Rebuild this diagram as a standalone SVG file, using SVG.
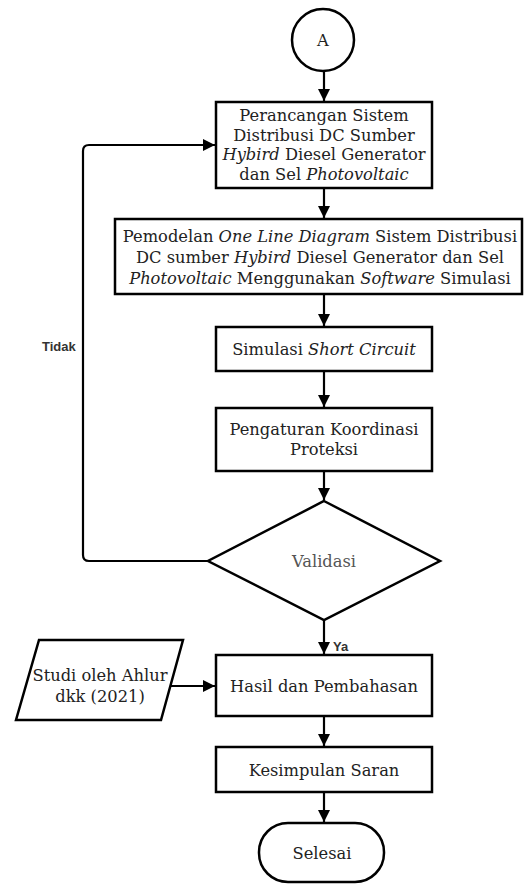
<svg xmlns="http://www.w3.org/2000/svg" width="524" height="884" viewBox="0 0 524 884">
<style>
.s{fill:#fff;stroke:#000;stroke-width:2.5}
.t{font-family:"DejaVu Serif","Liberation Serif",serif;font-size:16.3px;fill:#222;text-anchor:middle}
.c{fill:none;stroke:#000;stroke-width:2.2}
.l{font-family:"Liberation Sans",Arial,sans-serif;font-size:13px;font-weight:bold;fill:#333}
</style>
<defs>
<marker id="ah" markerUnits="userSpaceOnUse" markerWidth="12" markerHeight="14" viewBox="0 0 12 14" refX="12" refY="7" orient="auto">
<path d="M0,1 L12,7 L0,13 Z" fill="#000"/>
</marker>
</defs>
<rect width="524" height="884" fill="#fff"/>
<g id="connectors">
<line class="c" x1="324" y1="71" x2="324" y2="101" marker-end="url(#ah)"/>
<line class="c" x1="324" y1="188" x2="324" y2="218" marker-end="url(#ah)"/>
<line class="c" x1="324" y1="294" x2="324" y2="326" marker-end="url(#ah)"/>
<line class="c" x1="324" y1="371" x2="324" y2="407" marker-end="url(#ah)"/>
<line class="c" x1="324" y1="471" x2="324" y2="500" marker-end="url(#ah)"/>
<line class="c" x1="324" y1="620" x2="324" y2="654" marker-end="url(#ah)"/>
<line class="c" x1="324" y1="716" x2="324" y2="746" marker-end="url(#ah)"/>
<line class="c" x1="324" y1="792" x2="324" y2="822" marker-end="url(#ah)"/>
<line class="c" x1="171" y1="686" x2="215" y2="686" marker-end="url(#ah)"/>
<path class="c" d="M208,561 H89 Q83,561 83,555 V151 Q83,145 89,145 H215" marker-end="url(#ah)"/>
<text class="l" x="42" y="351">Tidak</text>
<text class="l" x="333" y="651">Ya</text>
</g>
<g id="start">
<circle class="s" cx="323" cy="40" r="31"/>
<text class="t" x="323" y="46">A</text>
</g>
<g id="perancangan">
<rect class="s" x="216" y="102" width="216" height="86"/>
<text class="t"><tspan x="324" y="121">Perancangan Sistem</tspan><tspan x="324" y="141">Distribusi DC Sumber</tspan><tspan x="324" y="160"><tspan font-style="italic">Hybird</tspan> Diesel Generator</tspan><tspan x="324" y="180">dan Sel <tspan font-style="italic">Photovoltaic</tspan></tspan></text>
</g>
<g id="pemodelan">
<rect class="s" x="115" y="219" width="407" height="75"/>
<text class="t"><tspan x="320" y="242">Pemodelan <tspan font-style="italic">One Line Diagram</tspan> Sistem Distribusi</tspan><tspan x="320" y="263">DC sumber <tspan font-style="italic">Hybird</tspan> Diesel Generator dan Sel</tspan><tspan x="320" y="284"><tspan font-style="italic">Photovoltaic</tspan> Menggunakan <tspan font-style="italic">Software</tspan> Simulasi</tspan></text>
</g>
<g id="simulasi">
<rect class="s" x="216" y="327" width="216" height="44"/>
<text class="t" x="324" y="355">Simulasi <tspan font-style="italic">Short Circuit</tspan></text>
</g>
<g id="pengaturan">
<rect class="s" x="216" y="408" width="216" height="63"/>
<text class="t"><tspan x="324" y="435">Pengaturan Koordinasi</tspan><tspan x="324" y="455">Proteksi</tspan></text>
</g>
<g id="validasi">
<polygon class="s" points="324,501 440,561 324,620 208,561"/>
<text class="t" x="324" y="567" style="fill:#555">Validasi</text>
</g>
<g id="studi">
<polygon class="s" points="39,640 183,640 161,720 16,720"/>
<text class="t"><tspan x="100" y="681">Studi oleh Ahlur</tspan><tspan x="100" y="702">dkk (2021)</tspan></text>
</g>
<g id="hasil">
<rect class="s" x="216" y="655" width="216" height="61"/>
<text class="t" x="324" y="692">Hasil dan Pembahasan</text>
</g>
<g id="kesimpulan">
<rect class="s" x="216" y="747" width="216" height="45"/>
<text class="t" x="324" y="776">Kesimpulan Saran</text>
</g>
<g id="selesai">
<rect class="s" x="259" y="823" width="125" height="59" rx="29" ry="29"/>
<text class="t" x="322" y="859">Selesai</text>
</g>
</svg>
